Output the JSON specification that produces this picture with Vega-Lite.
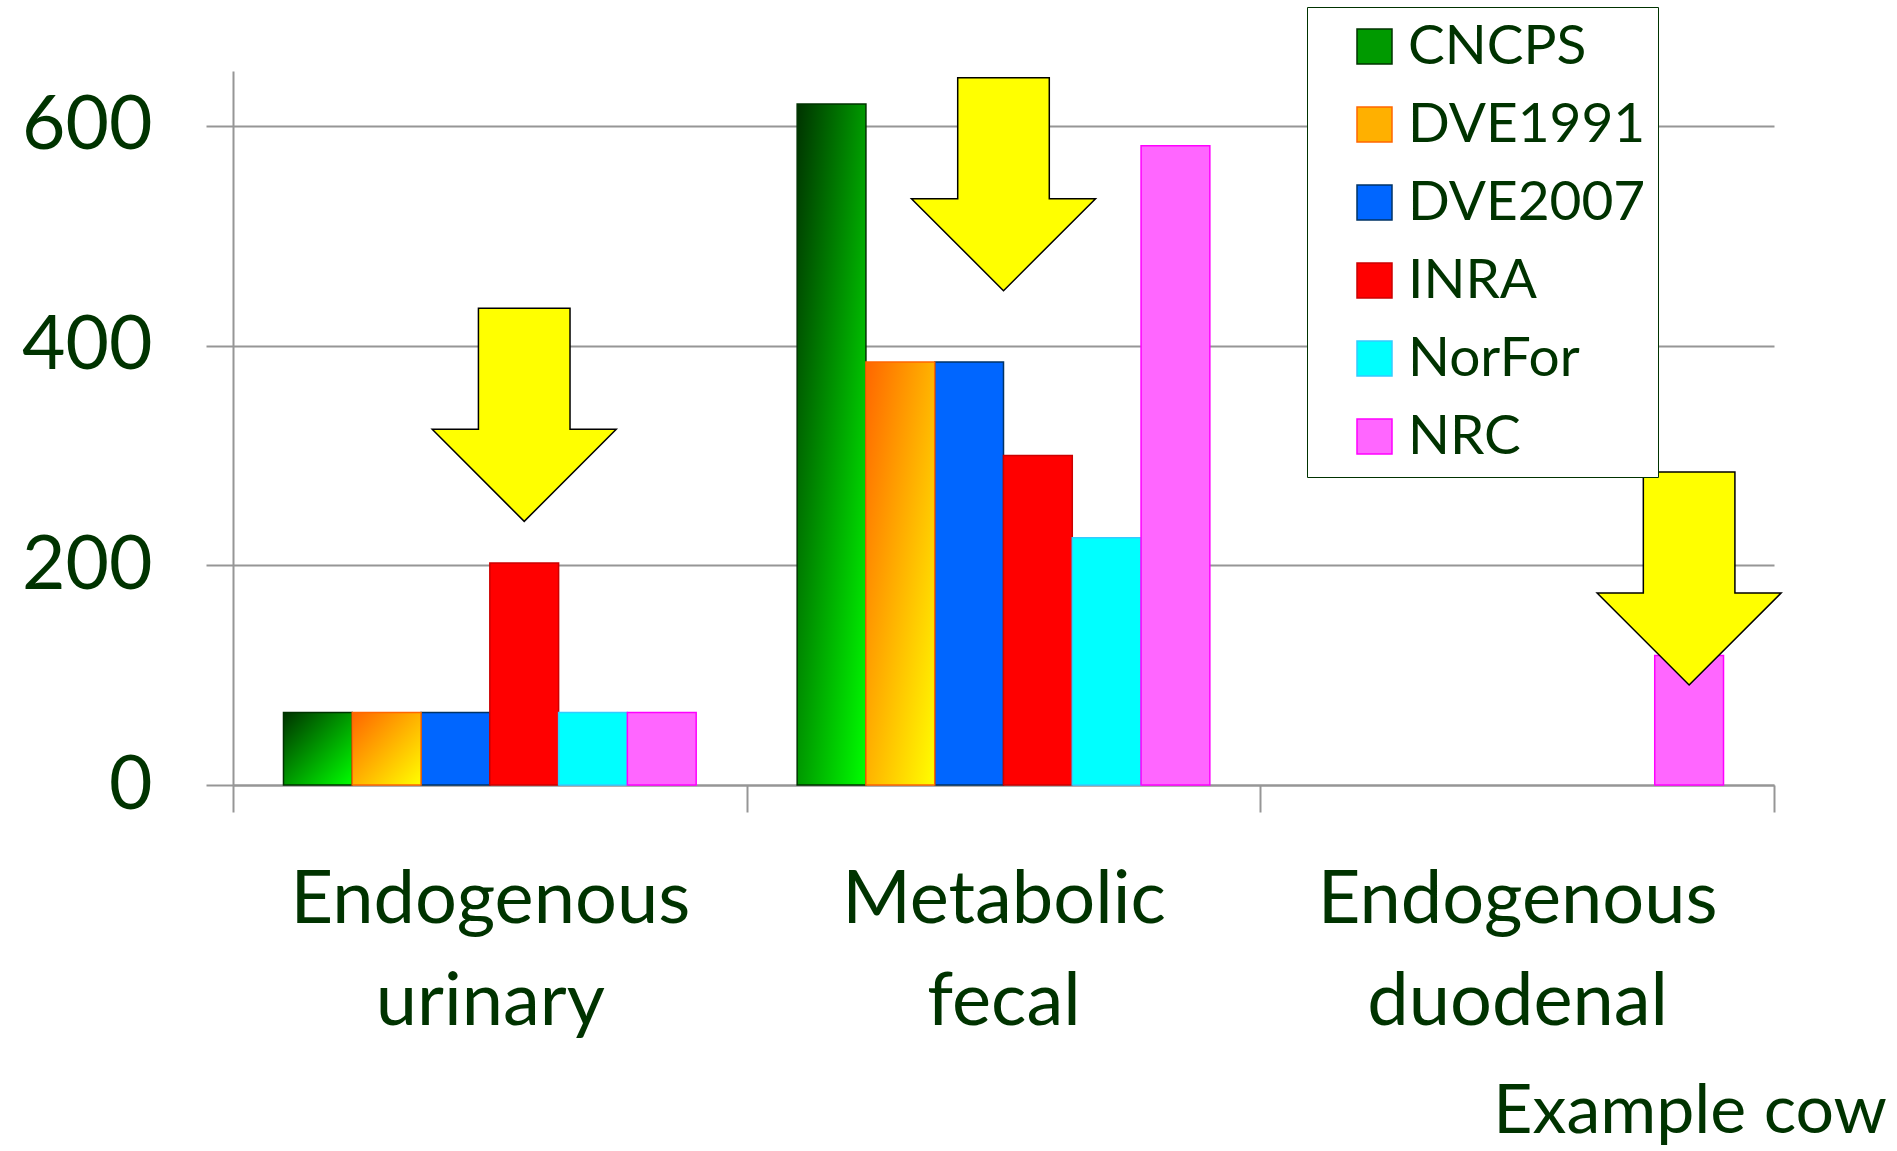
{
  "$schema": "https://vega.github.io/schema/vega-lite/v6.json",
  "width": 1541,
  "height": 714,
  "autosize": {"type": "none"},
  "padding": {"left": 233, "top": 71, "right": 123, "bottom": 366},
  "background": "white",
  "config": {"view": {"stroke": null}, "font": "Lato"},
  "title": {
    "text": "Example cow",
    "orient": "bottom",
    "anchor": "end",
    "frame": "group",
    "dx": 113,
    "offset": 40,
    "font": "Lato",
    "fontSize": 68,
    "fontWeight": "normal",
    "color": "#003300"
  },
  "datasets": {
    "requirements": [
      {"category": "Endogenous urinary", "model": "CNCPS", "value": 66},
      {"category": "Endogenous urinary", "model": "DVE1991", "value": 66},
      {"category": "Endogenous urinary", "model": "DVE2007", "value": 66},
      {"category": "Endogenous urinary", "model": "INRA", "value": 202},
      {"category": "Endogenous urinary", "model": "NorFor", "value": 66},
      {"category": "Endogenous urinary", "model": "NRC", "value": 66},
      {"category": "Metabolic fecal", "model": "CNCPS", "value": 620},
      {"category": "Metabolic fecal", "model": "DVE1991", "value": 385},
      {"category": "Metabolic fecal", "model": "DVE2007", "value": 385},
      {"category": "Metabolic fecal", "model": "INRA", "value": 300},
      {"category": "Metabolic fecal", "model": "NorFor", "value": 225},
      {"category": "Metabolic fecal", "model": "NRC", "value": 582},
      {"category": "Endogenous duodenal", "model": "NRC", "value": 118}
    ],
    "model_arrows": [
      {"category": "Endogenous urinary", "model": "INRA", "tip": 240},
      {"category": "Endogenous duodenal", "model": "NRC", "tip": 91}
    ],
    "group_arrows": [
      {"category": "Metabolic fecal", "tip": 450}
    ]
  },
  "layer": [
    {
      "data": {"name": "requirements"},
      "transform": [{"filter": "datum.model != 'CNCPS' && datum.model != 'DVE1991'"}],
      "mark": {"type": "bar", "strokeWidth": 1.5},
      "encoding": {
        "x": {
          "field": "category",
          "type": "nominal",
          "scale": {
            "type": "band",
            "domain": ["Endogenous urinary", "Metabolic fecal", "Endogenous duodenal"],
            "paddingInner": 0,
            "paddingOuter": 0
          },
          "axis": {
            "title": null,
            "labelAngle": 0,
            "tickBand": "extent",
            "tickSize": 27,
            "tickColor": "#969696",
            "tickWidth": 2,
            "domainColor": "#969696",
            "domainWidth": 2,
            "labelFont": "Lato",
            "labelFontSize": 74,
            "labelColor": "#003300",
            "labelLineHeight": 102,
            "labelPadding": 52,
            "labelBaseline": "top",
            "labelLimit": 0,
            "labelExpr": "split(datum.label, ' ')"
          }
        },
        "xOffset": {
          "field": "model",
          "type": "nominal",
          "scale": {
            "domain": ["CNCPS", "DVE1991", "DVE2007", "INRA", "NorFor", "NRC"],
            "paddingInner": 0,
            "paddingOuter": 0.734
          }
        },
        "y": {
          "field": "value",
          "type": "quantitative",
          "scale": {"domain": [0, 650], "nice": false},
          "axis": {
            "title": null,
            "values": [0, 200, 400, 600],
            "grid": true,
            "gridColor": "#969696",
            "gridWidth": 2,
            "domainColor": "#969696",
            "domainWidth": 2,
            "tickColor": "#969696",
            "tickWidth": 2,
            "tickSize": 27,
            "labelFont": "Lato",
            "labelFontSize": 75,
            "labelColor": "#003300",
            "labelPadding": 54
          }
        },
        "fill": {
          "field": "model",
          "type": "nominal",
          "scale": {
            "domain": ["CNCPS", "DVE1991", "DVE2007", "INRA", "NorFor", "NRC"],
            "range": ["#009a00", "#ffb000", "#0066ff", "#ff0000", "#00ffff", "#ff66ff"]
          },
          "legend": {
            "title": null,
            "orient": "none",
            "legendX": 1074,
            "legendY": -64,
            "symbolType": "square",
            "symbolSize": 1225,
            "symbolStrokeWidth": 1.5,
            "labelFont": "Lato",
            "labelFontSize": 55,
            "labelColor": "#003300",
            "labelOffset": 6,
            "labelLimit": 0,
            "symbolOffset": 28,
            "rowPadding": 22,
            "padding": 12,
            "strokeColor": "#003300",
            "fillColor": "white"
          }
        },
        "stroke": {
          "field": "model",
          "type": "nominal",
          "scale": {
            "domain": ["CNCPS", "DVE1991", "DVE2007", "INRA", "NorFor", "NRC"],
            "range": ["#003300", "#ff6600", "#003366", "#cc0000", "#33ccff", "#ff00ff"]
          }
        }
      }
    },
    {
      "data": {"name": "requirements"},
      "transform": [{"filter": "datum.model == 'CNCPS'"}],
      "mark": {
        "type": "bar",
        "strokeWidth": 1.5,
        "stroke": "#003300",
        "fill": {"gradient": "linear", "x1": 0, "y1": 0, "x2": 1, "y2": 1,
                 "stops": [{"offset": 0, "color": "#003300"}, {"offset": 1, "color": "#00ff00"}]}
      },
      "encoding": {
        "x": {"field": "category", "type": "nominal"},
        "xOffset": {"field": "model", "type": "nominal"},
        "y": {"field": "value", "type": "quantitative"}
      }
    },
    {
      "data": {"name": "requirements"},
      "transform": [{"filter": "datum.model == 'DVE1991'"}],
      "mark": {
        "type": "bar",
        "strokeWidth": 1.5,
        "stroke": "#ff6600",
        "fill": {"gradient": "linear", "x1": 0, "y1": 0, "x2": 1, "y2": 1,
                 "stops": [{"offset": 0, "color": "#ff6600"}, {"offset": 1, "color": "#ffff00"}]}
      },
      "encoding": {
        "x": {"field": "category", "type": "nominal"},
        "xOffset": {"field": "model", "type": "nominal"},
        "y": {"field": "value", "type": "quantitative"}
      }
    },
    {
      "data": {"name": "model_arrows"},
      "mark": {
        "type": "point",
        "shape": "M-0.43,-2L0.43,-2L0.43,-0.864L0.864,-0.864L0,0L-0.864,-0.864L-0.43,-0.864Z",
        "size": 45369,
        "filled": true,
        "fill": "#ffff00",
        "stroke": "#000000",
        "strokeWidth": 1.5,
        "opacity": 1,
        "fillOpacity": 1
      },
      "encoding": {
        "x": {"field": "category", "type": "nominal"},
        "xOffset": {"field": "model", "type": "nominal"},
        "y": {"field": "tip", "type": "quantitative"}
      }
    },
    {
      "data": {"name": "group_arrows"},
      "mark": {
        "type": "point",
        "shape": "M-0.43,-2L0.43,-2L0.43,-0.864L0.864,-0.864L0,0L-0.864,-0.864L-0.43,-0.864Z",
        "size": 45369,
        "filled": true,
        "fill": "#ffff00",
        "stroke": "#000000",
        "strokeWidth": 1.5,
        "opacity": 1,
        "fillOpacity": 1
      },
      "encoding": {
        "x": {"field": "category", "type": "nominal"},
        "y": {"field": "tip", "type": "quantitative"}
      }
    }
  ]
}
